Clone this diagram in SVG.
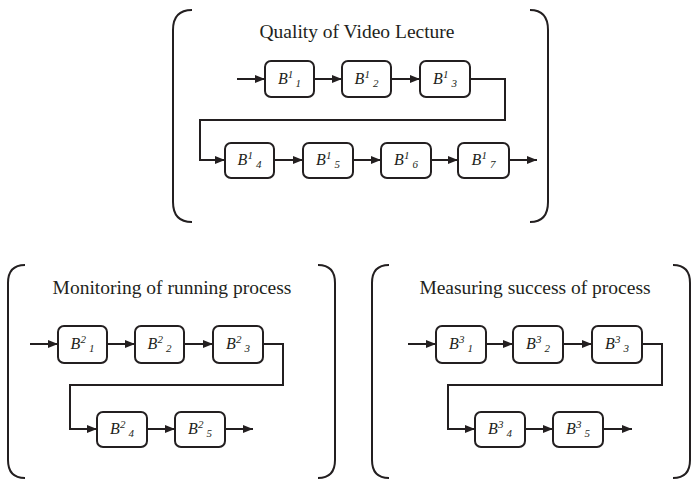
<svg xmlns="http://www.w3.org/2000/svg" width="693" height="483" viewBox="0 0 693 483">
<style>
.br{fill:none;stroke:#231f20;stroke-width:2}
.bx{fill:#fff;stroke:#231f20;stroke-width:2}
.ln{fill:none;stroke:#231f20;stroke-width:2}
.ar{marker-end:url(#ah)}
.tt{font-family:"Liberation Serif","Times New Roman",serif;font-size:19.5px;fill:#231f20;text-anchor:middle}
.lb{font-family:"Liberation Serif","Times New Roman",serif;font-size:16px;font-style:italic;fill:#231f20;text-anchor:middle}
.s{font-size:11px}
</style>
<defs>
<marker id="ah" markerWidth="10" markerHeight="8" refX="10" refY="4" orient="auto" markerUnits="userSpaceOnUse">
<path d="M0,0 L10,4 L0,8 Z" fill="#231f20"/>
</marker>
</defs>
<rect width="693" height="483" fill="#fff"/>
<g id="panel1">
<path class="br" d="M192 10 Q173 10 173 30 L173 202 Q173 222 192 222"/>
<path class="br" d="M530 10 Q548 10 548 30 L548 202 Q548 222 530 222"/>
<text class="tt" x="357" y="38">Quality of Video Lecture</text>
</g>
<g id="panel2">
<path class="br" d="M25 265 Q8 265 8 283 L8 460 Q8 478 25 478"/>
<path class="br" d="M318 265 Q335 265 335 283 L335 460 Q335 478 318 478"/>
<text class="tt" x="172" y="294">Monitoring of running process</text>
</g>
<g id="panel3">
<path class="br" d="M389 265 Q372 265 372 283 L372 460 Q372 478 389 478"/>
<path class="br" d="M673 265 Q690 265 690 283 L690 460 Q690 478 673 478"/>
<text class="tt" x="535" y="294">Measuring success of process</text>
</g>
<g id="connectors">
<path class="ln ar" d="M237 79 L265 79"/>
<path class="ln ar" d="M314 79 L342 79"/>
<path class="ln ar" d="M391 79 L420 79"/>
<path class="ln ar" d="M470 79 L505 79 L505 120 L200 120 L200 160 L225 160"/>
<path class="ln ar" d="M274 160 L303 160"/>
<path class="ln ar" d="M353 160 L381 160"/>
<path class="ln ar" d="M431 160 L458 160"/>
<path class="ln ar" d="M509 160 L537 160"/>
<path class="ln ar" d="M30 344 L58 344"/>
<path class="ln ar" d="M107 344 L135 344"/>
<path class="ln ar" d="M184 344 L213 344"/>
<path class="ln ar" d="M263 344 L283 344 L283 385 L70 385 L70 429 L97 429"/>
<path class="ln ar" d="M147 429 L175 429"/>
<path class="ln ar" d="M225 429 L253 429"/>
<path class="ln ar" d="M408 344 L436 344"/>
<path class="ln ar" d="M486 344 L513 344"/>
<path class="ln ar" d="M563 344 L592 344"/>
<path class="ln ar" d="M642 344 L662 344 L662 385 L448 385 L448 429 L475 429"/>
<path class="ln ar" d="M525 429 L553 429"/>
<path class="ln ar" d="M603 429 L632 429"/>
</g>
<g id="B1_1"><rect class="bx" x="265" y="61" width="49" height="36" rx="6"/><text class="lb" x="289.5" y="84">B<tspan class="s" dy="-6">1</tspan><tspan class="s" dx="3" dy="9">1</tspan></text></g>
<g id="B1_2"><rect class="bx" x="342" y="61" width="49" height="36" rx="6"/><text class="lb" x="366.5" y="84">B<tspan class="s" dy="-6">1</tspan><tspan class="s" dx="3" dy="9">2</tspan></text></g>
<g id="B1_3"><rect class="bx" x="420" y="61" width="50" height="36" rx="6"/><text class="lb" x="445" y="84">B<tspan class="s" dy="-6">1</tspan><tspan class="s" dx="3" dy="9">3</tspan></text></g>
<g id="B1_4"><rect class="bx" x="225" y="143" width="49" height="35" rx="6"/><text class="lb" x="249.5" y="165">B<tspan class="s" dy="-6">1</tspan><tspan class="s" dx="3" dy="9">4</tspan></text></g>
<g id="B1_5"><rect class="bx" x="303" y="143" width="50" height="35" rx="6"/><text class="lb" x="328" y="165">B<tspan class="s" dy="-6">1</tspan><tspan class="s" dx="3" dy="9">5</tspan></text></g>
<g id="B1_6"><rect class="bx" x="381" y="143" width="50" height="35" rx="6"/><text class="lb" x="406" y="165">B<tspan class="s" dy="-6">1</tspan><tspan class="s" dx="3" dy="9">6</tspan></text></g>
<g id="B1_7"><rect class="bx" x="458" y="143" width="51" height="35" rx="6"/><text class="lb" x="483.5" y="165">B<tspan class="s" dy="-6">1</tspan><tspan class="s" dx="3" dy="9">7</tspan></text></g>
<g id="B2_1"><rect class="bx" x="58" y="326" width="49" height="37" rx="6"/><text class="lb" x="82.5" y="349">B<tspan class="s" dy="-6">2</tspan><tspan class="s" dx="3" dy="9">1</tspan></text></g>
<g id="B2_2"><rect class="bx" x="135" y="326" width="49" height="37" rx="6"/><text class="lb" x="159.5" y="349">B<tspan class="s" dy="-6">2</tspan><tspan class="s" dx="3" dy="9">2</tspan></text></g>
<g id="B2_3"><rect class="bx" x="213" y="326" width="50" height="37" rx="6"/><text class="lb" x="238" y="349">B<tspan class="s" dy="-6">2</tspan><tspan class="s" dx="3" dy="9">3</tspan></text></g>
<g id="B2_4"><rect class="bx" x="97" y="412" width="50" height="35" rx="6"/><text class="lb" x="122" y="434">B<tspan class="s" dy="-6">2</tspan><tspan class="s" dx="3" dy="9">4</tspan></text></g>
<g id="B2_5"><rect class="bx" x="175" y="412" width="50" height="35" rx="6"/><text class="lb" x="200" y="434">B<tspan class="s" dy="-6">2</tspan><tspan class="s" dx="3" dy="9">5</tspan></text></g>
<g id="B3_1"><rect class="bx" x="436" y="326" width="50" height="37" rx="6"/><text class="lb" x="461" y="349">B<tspan class="s" dy="-6">3</tspan><tspan class="s" dx="3" dy="9">1</tspan></text></g>
<g id="B3_2"><rect class="bx" x="513" y="326" width="50" height="37" rx="6"/><text class="lb" x="538" y="349">B<tspan class="s" dy="-6">3</tspan><tspan class="s" dx="3" dy="9">2</tspan></text></g>
<g id="B3_3"><rect class="bx" x="592" y="326" width="50" height="37" rx="6"/><text class="lb" x="617" y="349">B<tspan class="s" dy="-6">3</tspan><tspan class="s" dx="3" dy="9">3</tspan></text></g>
<g id="B3_4"><rect class="bx" x="475" y="412" width="50" height="35" rx="6"/><text class="lb" x="500" y="434">B<tspan class="s" dy="-6">3</tspan><tspan class="s" dx="3" dy="9">4</tspan></text></g>
<g id="B3_5"><rect class="bx" x="553" y="412" width="50" height="35" rx="6"/><text class="lb" x="578" y="434">B<tspan class="s" dy="-6">3</tspan><tspan class="s" dx="3" dy="9">5</tspan></text></g>
</svg>
